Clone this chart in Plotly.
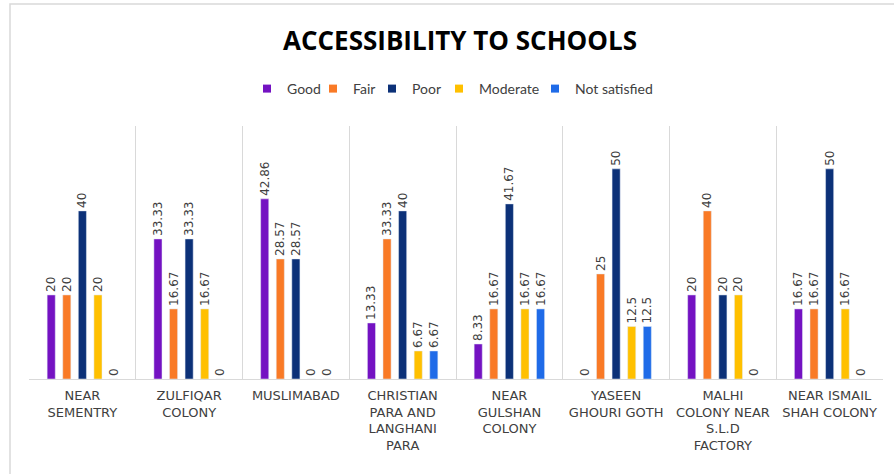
import plotly.graph_objects as go

categories = ["NEAR<br>SEMENTRY", "ZULFIQAR<br>COLONY", "MUSLIMABAD",
              "CHRISTIAN<br>PARA AND<br>LANGHANI<br>PARA", "NEAR<br>GULSHAN<br>COLONY",
              "YASEEN<br>GHOURI GOTH", "MALHI<br>COLONY NEAR<br>S.L.D<br>FACTORY",
              "NEAR ISMAIL<br>SHAH COLONY"]

good = [20, 33.33, 42.86, 13.33, 8.33, 0, 20, 16.67]
fair = [20, 16.67, 28.57, 33.33, 16.67, 25, 40, 16.67]
poor = [40, 33.33, 28.57, 40, 41.67, 50, 20, 50]
moderate = [20, 16.67, 0, 6.67, 16.67, 12.5, 20, 16.67]
not_satisfied = [0, 0, 0, 6.67, 16.67, 12.5, 0, 0]

series = [
    ("Good", good, "#7412C2"),
    ("Fair", fair, "#F97A26"),
    ("Poor", poor, "#0C3178"),
    ("Moderate", moderate, "#FFC000"),
    ("Not satisfied", not_satisfied, "#1F6BE8"),
]
# approximate left pixel of each legend entry
legend_left_x = [247, 313, 372, 439, 535]

W, H = 894, 474
ml, mr, mt, mb = 29, 11, 126, 95
pw, ph = W - ml - mr, H - mt - mb

def px(x):
    return (x - ml) / pw

def py(y):
    return (H - mb - y) / ph

fig = go.Figure()
legend_layouts = {}
for i, (name, vals, color) in enumerate(series):
    fig.add_trace(go.Bar(
        name=name, x=categories, y=vals, marker_color=color, showlegend=False,
        text=[f"{v:g}" for v in vals], textposition="outside", textangle=-90,
        constraintext="none", cliponaxis=False,
        textfont=dict(family="DejaVu Sans", size=12, color="#404040"),
    ))
    lg = "legend" if i == 0 else f"legend{i + 1}"
    fig.add_trace(go.Scatter(
        name=name, x=[None], y=[None], mode="markers", legend=lg,
        marker=dict(symbol="square", size=8, color=color), showlegend=True,
    ))
    legend_layouts[lg] = dict(
        orientation="h", xref="container", yref="container",
        x=legend_left_x[i] / W, xanchor="left",
        y=1 - 89 / H, yanchor="middle",
        font=dict(family="Lato", size=14, color="#404040"),
        itemwidth=30, bgcolor="rgba(0,0,0,0)", borderwidth=0,
    )

fig.update_layout(
    width=W, height=H,
    margin=dict(l=ml, r=mr, t=mt, b=mb, autoexpand=False),
    paper_bgcolor="white", plot_bgcolor="white",
    barmode="group", bargap=0.27, bargroupgap=0.48,
    title=dict(text="<b>ACCESSIBILITY TO SCHOOLS</b>", x=460 / W, xanchor="center",
               y=1 - 41 / H, yanchor="middle",
               font=dict(family="Open Sans", size=26, color="#000000")),
    xaxis=dict(type="category", tickson="boundaries", showgrid=True, gridcolor="#D9D9D9",
               showline=True, linecolor="#D9D9D9", ticks="", range=[-0.5, 7.5],
               tickfont=dict(family="DejaVu Sans", size=13, color="#404040"),
               tickangle=0, automargin=False, ticklabelstandoff=4),
    yaxis=dict(range=[0, 60.2], showgrid=False, showticklabels=False, zeroline=False,
               showline=False, automargin=False),
    shapes=[dict(type="path", xref="paper", yref="paper",
                 path=f"M {px(10)} {py(474)} L {px(10)} {py(4)} L {px(894)} {py(4)}",
                 line=dict(color="#D9D9D9", width=1.5))],
    showlegend=True,
    **legend_layouts,
)

fig.write_html("out.html", config={"displayModeBar": False},
               post_script="document.body.style.margin='0';")
